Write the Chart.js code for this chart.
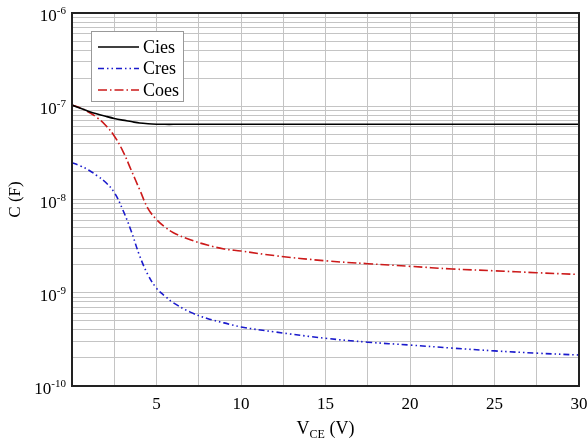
<!DOCTYPE html>
<html>
<head>
<meta charset="utf-8">
<script src="https://cdn.jsdelivr.net/npm/chart.js@4"></script>
<style>
html, body { margin: 0; padding: 0; background: #fff; }
#wrap { width: 587px; height: 441px; }
</style>
</head>
<body>
<div id="wrap"><canvas id="capChart"></canvas></div>
<script>

// collector-emitter voltage (V)
const vce = [0, 0.5, 1, 1.5, 2, 2.5, 3, 3.5, 4, 4.5, 5, 5.5, 6, 7, 8, 9, 10, 12, 15, 17.5, 20, 22.5, 25, 27.5, 30];

// capacitances (F)
const cies = [1.03e-7, 9.5e-8, 8.8e-8, 8.25e-8, 7.8e-8, 7.4e-8, 7.1e-8, 6.85e-8, 6.6e-8, 6.48e-8, 6.42e-8, 6.4e-8, 6.4e-8, 6.4e-8, 6.4e-8, 6.4e-8, 6.4e-8, 6.4e-8, 6.4e-8, 6.4e-8, 6.4e-8, 6.4e-8, 6.4e-8, 6.4e-8, 6.4e-8];
const cres = [2.48e-8, 2.29e-8, 2.06e-8, 1.79e-8, 1.52e-8, 1.19e-8, 7.8e-9, 4.6e-9, 2.5e-9, 1.55e-9, 1.12e-9, 9.2e-10, 7.8e-10, 6.2e-10, 5.3e-10, 4.75e-10, 4.3e-10, 3.8e-10, 3.25e-10, 2.95e-10, 2.75e-10, 2.55e-10, 2.38e-10, 2.25e-10, 2.15e-10];
const coes = [1.03e-7, 9.57e-8, 8.63e-8, 7.52e-8, 6.22e-8, 4.8e-8, 3.33e-8, 2.07e-8, 1.28e-8, 8.0e-9, 6.1e-9, 5.07e-9, 4.4e-9, 3.7e-9, 3.25e-9, 2.95e-9, 2.8e-9, 2.5e-9, 2.2e-9, 2.05e-9, 1.92e-9, 1.8e-9, 1.72e-9, 1.64e-9, 1.57e-9];

const seriesNames = ["Cies", "Cres", "Coes"];
const xTickLabels = [5, 10, 15, 20, 25, 30];
const yDecades = [-10, -9, -8, -7, -6];

const serif = "'Liberation Serif', 'Times New Roman', serif";

function pts(ys) {
    return vce.map((v, i) => ({ x: v, y: ys[i] }));
}

// y labels as 10 with raised exponent, axis titles, frame and legend box
const decorPlugin = {
    id: "decor",
    afterDraw(chart) {
        const ctx = chart.ctx;
        const area = chart.chartArea;
        const ys = chart.scales.y;

        ctx.save();
        ctx.fillStyle = "#000";

        // decade labels
        yDecades.forEach(e => {
            const py = ys.getPixelForValue(Math.pow(10, e));
            const exp = "-" + Math.abs(e);
            ctx.font = "11px " + serif;
            const ew = ctx.measureText(exp).width;
            const right = area.left - 6;
            ctx.textBaseline = "alphabetic";
            ctx.textAlign = "left";
            ctx.fillText(exp, right - ew, py + 1);
            ctx.font = "17px " + serif;
            ctx.textAlign = "right";
            ctx.fillText("10", right - ew, py + 8);
        });

        // y title
        ctx.font = "17px " + serif;
        ctx.textAlign = "center";
        ctx.textBaseline = "middle";
        ctx.save();
        ctx.translate(16, (area.top + area.bottom) / 2);
        ctx.rotate(-Math.PI / 2);
        ctx.fillText("C (F)", 0, 0);
        ctx.restore();

        // x title with subscript
        const cx = (area.left + area.right) / 2;
        const ty = 434;
        ctx.textBaseline = "alphabetic";
        ctx.textAlign = "left";
        ctx.font = "18px " + serif;
        const wV = ctx.measureText("V").width;
        const wRest = ctx.measureText(" (V)").width;
        ctx.font = "12px " + serif;
        const wSub = ctx.measureText("CE").width;
        let x0 = cx - (wV + wSub + wRest) / 2;
        ctx.font = "18px " + serif;
        ctx.fillText("V", x0, ty);
        ctx.font = "12px " + serif;
        ctx.fillText("CE", x0 + wV, ty + 4);
        ctx.font = "18px " + serif;
        ctx.fillText(" (V)", x0 + wV + wSub, ty);

        // plot frame
        ctx.strokeStyle = "#222";
        ctx.lineWidth = 2;
        ctx.strokeRect(area.left, area.top, area.right - area.left, area.bottom - area.top);

        // legend
        const lx = 91, ly = 31, lw = 92, lh = 70;
        ctx.fillStyle = "#fff";
        ctx.fillRect(lx, ly, lw, lh);
        ctx.strokeStyle = "#999";
        ctx.lineWidth = 1;
        ctx.strokeRect(lx + 0.5, ly + 0.5, lw, lh);
        chart.data.datasets.forEach((ds, i) => {
            const yy = ly + 16 + i * 21.5;
            ctx.strokeStyle = ds.borderColor;
            ctx.lineWidth = ds.borderWidth;
            ctx.setLineDash(ds.borderDash || []);
            ctx.beginPath();
            ctx.moveTo(lx + 7, yy);
            ctx.lineTo(lx + 48, yy);
            ctx.stroke();
            ctx.setLineDash([]);
            ctx.fillStyle = "#000";
            ctx.font = "18px " + serif;
            ctx.textAlign = "left";
            ctx.textBaseline = "middle";
            ctx.fillText(ds.label, lx + 52, yy + 1);
        });

        ctx.restore();
    }
};

new Chart(
document.getElementById("capChart"),
{
type: "line",

data: {
datasets: [
{
label: seriesNames[0],
data: pts(cies),
borderColor: "#000000",
borderWidth: 1.6,
pointRadius: 0,
tension: 0.3
},
{
label: seriesNames[1],
data: pts(cres),
borderColor: "#1a1acc",
borderWidth: 1.6,
borderDash: [6, 3, 1.5, 3, 1.5, 3],
pointRadius: 0,
tension: 0.4
},
{
label: seriesNames[2],
data: pts(coes),
borderColor: "#cc1a1a",
borderWidth: 1.6,
borderDash: [9, 3, 1.5, 3],
pointRadius: 0,
tension: 0.4
}
]
},

options: {
responsive: true,
maintainAspectRatio: false,
animation: false,
devicePixelRatio: 1,
layout: {
padding: { top: 13, right: 0, left: 0, bottom: 0 }
},
plugins: {
legend: { display: false },
tooltip: { enabled: false }
},
scales: {
x: {
type: "linear",
min: 0,
max: 30,
afterBuildTicks: scale => {
const t = [];
for (let v = 0; v <= 30; v += 2.5) t.push({ value: v });
scale.ticks = t;
},
afterFit: scale => {
scale.height = 55;
scale.paddingRight = 8;
},
grid: { color: "#c4c4c4", lineWidth: 1, drawTicks: false },
border: { display: false },
ticks: {
padding: 8,
maxRotation: 0,
autoSkip: false,
color: "#000",
font: { family: serif, size: 17 },
callback: v => (xTickLabels.includes(v) ? String(v) : "")
}
},
y: {
type: "logarithmic",
min: 1e-10,
max: 1e-6,
afterBuildTicks: scale => {
const t = [];
for (let e = -10; e < -6; e++) {
for (let m = 1; m < 10; m++) t.push({ value: m * Math.pow(10, e) });
}
t.push({ value: 1e-6 });
scale.ticks = t;
},
afterFit: scale => { scale.width = 72; },
grid: { color: "#c4c4c4", lineWidth: 1, drawTicks: false },
border: { display: false },
ticks: { display: false }
}
}
},

plugins: [decorPlugin]

});

</script>
</body>
</html>
